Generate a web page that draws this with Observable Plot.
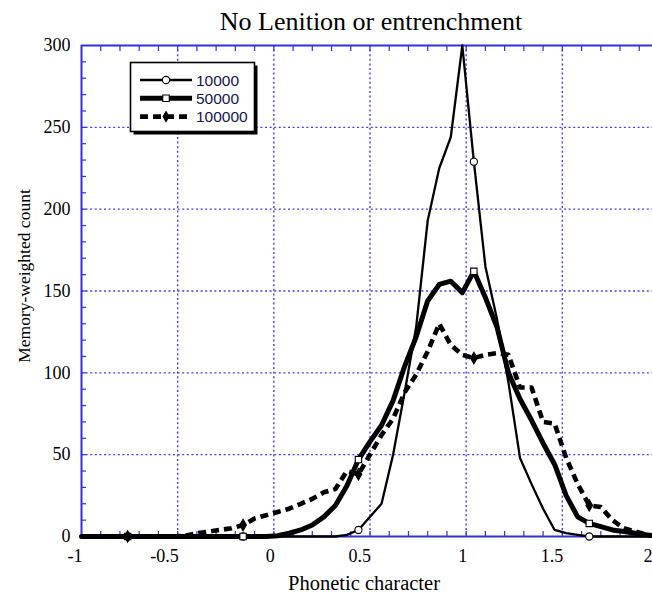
<!DOCTYPE html>
<html><head><meta charset="utf-8">
<script src="https://cdn.jsdelivr.net/npm/d3@7"></script>
<script src="https://cdn.jsdelivr.net/npm/@observablehq/plot@0.6"></script>
<style>
body{margin:0;background:#fff;}
#wrap{position:relative;width:652px;height:593px;overflow:hidden;background:#fff;}
#wrap svg.plot{position:absolute;left:0;top:0;}
#legend{position:absolute;left:128px;top:60px;}
.lbl{position:absolute;white-space:nowrap;font-family:'Liberation Serif','Times New Roman',serif;color:#000;line-height:1;transform:translate(-50%,-50%);}
#title{left:371px;top:22px;font-size:26px;}
#xlabel{left:364px;top:583px;font-size:20.5px;}
#ylabel{left:25px;top:276px;font-size:17.5px;transform:translate(-50%,-50%) rotate(-90deg);}
</style></head><body><div id="wrap"></div>
<script>
// Phonetic character (bin positions)
const phonetic = [-1, -0.94, -0.88, -0.82, -0.76, -0.70, -0.64, -0.58, -0.52, -0.46,
  -0.40, -0.34, -0.28, -0.22, -0.16, -0.10, -0.04, 0.02, 0.08, 0.14,
  0.20, 0.26, 0.32, 0.38, 0.44, 0.50, 0.56, 0.62, 0.68, 0.74,
  0.80, 0.86, 0.92, 0.98, 1.04, 1.10, 1.16, 1.22, 1.28, 1.34,
  1.40, 1.46, 1.52, 1.58, 1.64, 1.70, 1.76, 1.82, 1.88, 1.94, 2.00];
// Memory-weighted counts
const count10000 = [0, 0, 0, 0, 0, 0, 0, 0, 0, 0,
  0, 0, 0, 0, 0, 0, 0, 0, 0, 0,
  0, 0, 0, 1, 4, 12, 20, 50, 88, 128,
  193, 225, 244, 300, 229, 165, 133, 94, 48, 32,
  17, 4, 2, 1, 0, 0, 0, 0, 0, 0, 0];
const count50000 = [0, 0, 0, 0, 0, 0, 0, 0, 0, 0,
  0, 0, 0, 0, 0, 0, 0, 0.5, 2, 4,
  7, 12, 19, 31, 47, 58, 68, 83, 104, 122,
  144, 154, 156, 149, 162, 146, 128, 100, 84, 71,
  57, 44, 25, 12, 8, 6, 4, 3, 2, 1, 0];
const count100000 = [0, 0, 0, 0, 0, 0, 0, 0, 0, 0.5,
  2, 3, 4, 5, 7, 11, 13, 15, 17, 20,
  23, 27, 29, 40, 38, 50, 62, 72, 88, 99,
  113, 130, 117, 111, 109, 111, 112, 111, 91, 91,
  70, 69, 48, 32, 19, 18, 10, 5, 3, 1, 0];
const markerIndex = [4, 14, 24, 34, 44];
const seriesNames = ["10000", "50000", "100000"];
const xTicks = [-1, -0.5, 0, 0.5, 1, 1.5];
const xLastTick = [2];
const yTicks = [0, 50, 100, 150, 200, 250, 300];
const xGrid = [-0.5, 0, 0.5, 1, 1.5];
const yGrid = [50, 100, 150, 200, 250];
const xMinor = d3.range(-9, 20).map(k => k / 10);
const yMinor = d3.range(1, 30).map(k => k * 10);
const title = "No Lenition or entrenchment";
const xLabel = "Phonetic character";
const yLabel = "Memory-weighted count";

const blue = "#3030dc";
const gridBlue = "#4a3af0";
const series = [count10000, count50000, count100000];
const styles = [
  {strokeWidth: 2.3, dash: null, symbol: "circle", fill: "white"},
  {strokeWidth: 5, dash: null, symbol: "square", fill: "white"},
  {strokeWidth: 4.6, dash: "8,5", symbol: "diamond", fill: "black"}
];
const rows = series.map((vals, s) => phonetic.map((x, i) => ({x, y: vals[i], i, name: seriesNames[s]})));

const lineMarks = [];
rows.forEach((data, s) => {
  const st = styles[s];
  lineMarks.push(Plot.line(data, {x: "x", y: "y", stroke: "black", strokeWidth: st.strokeWidth,
    strokeDasharray: st.dash, strokeLinejoin: "round", strokeLinecap: s === 2 ? "butt" : "round"}));
});
rows.forEach((data, s) => {
  const st = styles[s];
  lineMarks.push(Plot.dot(data.filter(d => markerIndex.includes(d.i)), {x: "x", y: "y",
    symbol: st.symbol, r: s === 2 ? 3.5 : 3.6, stroke: "black", strokeWidth: 1.1, fill: st.fill}));
});

const fmt = d => String(d);
const chart = Plot.plot({
  width: 652, height: 593,
  marginLeft: 81, marginRight: -6, marginTop: 45, marginBottom: 57,
  style: {fontFamily: "'Liberation Serif','Times New Roman',serif", fontSize: "18px", color: "#000", background: "transparent", overflow: "visible"},
  x: {domain: [-1, 2]},
  y: {domain: [0, 300]},
  marks: [
    Plot.gridX(xGrid, {stroke: gridBlue, strokeOpacity: 1, strokeWidth: 1.4, strokeDasharray: "2,2.6"}),
    Plot.gridY(yGrid, {stroke: gridBlue, strokeOpacity: 1, strokeWidth: 1.4, strokeDasharray: "2,2.6"}),
    Plot.axisX(xMinor, {anchor: "bottom", tickSize: -5, tickFormat: () => "", label: null, stroke: blue, strokeWidth: 1.2}),
    Plot.axisX(xMinor, {anchor: "top", tickSize: -5, tickFormat: () => "", label: null, stroke: blue, strokeWidth: 1.2}),
    Plot.axisY(yMinor, {anchor: "left", tickSize: -5, tickFormat: () => "", label: null, stroke: blue, strokeWidth: 1.2}),
    Plot.axisX(xTicks, {anchor: "bottom", tickSize: 0, tickPadding: 13, fontSize: 18, textAnchor: "end", dx: 1,
      tickFormat: fmt, label: null}),
    Plot.axisX(xLastTick, {anchor: "bottom", tickSize: 0, tickPadding: 13, fontSize: 18, textAnchor: "end", dx: -6,
      tickFormat: fmt, label: null}),
    Plot.axisY(yTicks, {anchor: "left", tickSize: 0, tickPadding: 11, fontSize: 18, tickFormat: fmt, label: null}),
    Plot.ruleY([0, 300], {stroke: blue, strokeWidth: 2}),
    Plot.ruleX([-1, 2], {stroke: blue, strokeWidth: 2}),
    ...lineMarks
  ]
});
chart.classList.add("plot");
const wrap = document.getElementById("wrap");
wrap.appendChild(chart);

// Titles
[["title", title], ["xlabel", xLabel], ["ylabel", yLabel]].forEach(([id, t]) => {
  const d = document.createElement("div");
  d.className = "lbl"; d.id = id; d.textContent = t;
  wrap.appendChild(d);
});

// Legend
const lg = d3.select("#wrap").append("svg").attr("id", "legend").attr("width", 132).attr("height", 80);
lg.append("rect").attr("x", 5.5).attr("y", 5.5).attr("width", 124).attr("height", 69).attr("fill", "black");
lg.append("rect").attr("x", 2.5).attr("y", 2.5).attr("width", 124).attr("height", 69).attr("fill", "white").attr("stroke", "black").attr("stroke-width", 1.6);
seriesNames.forEach((name, s) => {
  const st = styles[s];
  const yy = 20 + s * 18.3;
  lg.append("line").attr("x1", 12).attr("x2", 64).attr("y1", yy).attr("y2", yy)
    .attr("stroke", "black").attr("stroke-width", st.strokeWidth).attr("stroke-dasharray", st.dash);
  const sym = d3.symbol().type(st.symbol === "circle" ? d3.symbolCircle : st.symbol === "square" ? d3.symbolSquare : d3.symbolDiamond)
    .size(st.symbol === "diamond" ? 30 : 42);
  lg.append("path").attr("d", sym()).attr("transform", `translate(38,${yy})`)
    .attr("fill", st.fill).attr("stroke", "black").attr("stroke-width", 1.1);
  lg.append("text").attr("x", 68).attr("y", yy + 5.5).text(name)
    .attr("font-family", "'Liberation Sans',Arial,sans-serif").attr("font-size", 15.5).attr("fill", "#15154a");
});
</script></body></html>
